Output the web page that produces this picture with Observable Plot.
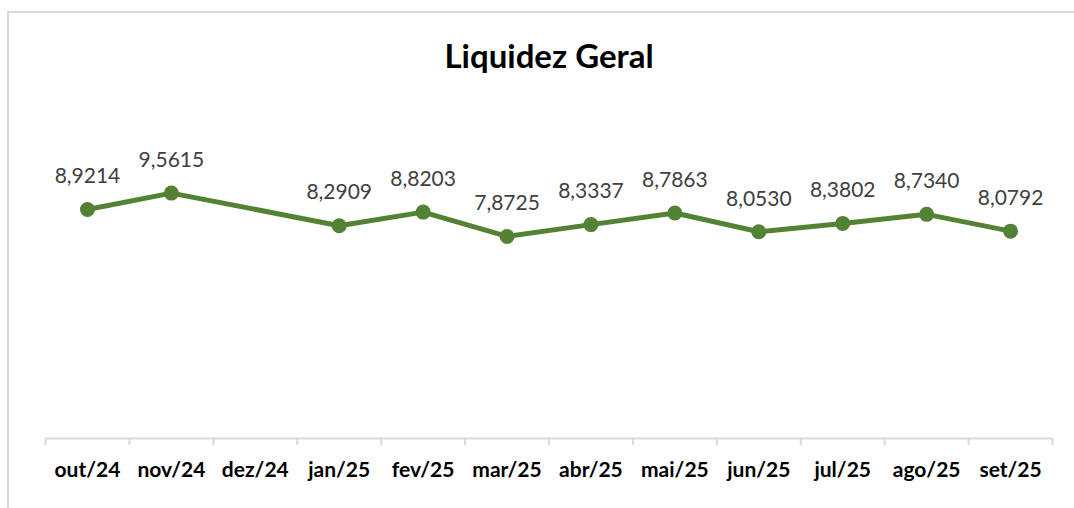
<!DOCTYPE html>
<html>
<head>
<meta charset="utf-8">
<script src="https://cdn.jsdelivr.net/npm/d3@7"></script>
<script src="https://cdn.jsdelivr.net/npm/@observablehq/plot@0.6"></script>
<style>
  html, body { margin: 0; padding: 0; background: #fff; overflow: hidden; }
  #wrap { position: relative; width: 1074px; height: 508px; overflow: hidden; font-family: Lato, "Open Sans", sans-serif; }
  #frame { position: absolute; left: 7px; top: 11px; width: 1200px; height: 600px; border-top: 2px solid #d9d9d9; border-left: 2px solid #d9d9d9; }
  #title { position: absolute; left: 0; width: 1098px; top: 35px; text-align: center; font-size: 33px; font-weight: 700; color: #000; line-height: 40px; }
  #chart { position: absolute; left: 0; top: 0; }
</style>
</head>
<body>
<div id="wrap">
  <div id="frame"></div>
  <div id="chart"></div>
  <div id="title">Liquidez Geral</div>
</div>
<script>
const categories = ["out/24","nov/24","dez/24","jan/25","fev/25","mar/25","abr/25","mai/25","jun/25","jul/25","ago/25","set/25"];
const values = [8.9214, 9.5615, null, 8.2909, 8.8203, 7.8725, 8.3337, 8.7863, 8.0530, 8.3802, 8.7340, 8.0792];
const labels = ["8,9214","9,5615",null,"8,2909","8,8203","7,8725","8,3337","8,7863","8,0530","8,3802","8,7340","8,0792"];
const yDomain = [0, 12];

const data = categories.map((c, i) => ({cat: c, v: values[i], label: labels[i]})).filter(d => d.v != null);

const W = 1074, H = 508, ml = 45, mr = 22, mt = 130, mb = 70;
const half = (W - ml - mr) / categories.length / 2;
const green = "#548235";

const chart = Plot.plot({
  width: W, height: H,
  marginLeft: ml, marginRight: mr, marginTop: mt, marginBottom: mb,
  style: {fontFamily: "Lato, 'Open Sans', sans-serif", background: "transparent"},
  x: {type: "point", domain: categories, padding: 0.5, round: false, label: null},
  y: {domain: yDomain, axis: null},
  marks: [
    Plot.ruleY([0], {stroke: "#d9d9d9", strokeWidth: 2}),
    Plot.axisX({ticks: categories, tickSize: 7, text: null, label: null, dx: -half, stroke: "#d9d9d9", strokeWidth: 2, strokeOpacity: 1}),
    Plot.axisX({ticks: categories.slice(-1), tickSize: 7, text: null, label: null, dx: half, stroke: "#d9d9d9", strokeWidth: 2, strokeOpacity: 1}),
    Plot.axisX({ticks: categories, tickSize: 0, tickPadding: 24, fontSize: 21, fontWeight: "bold", fill: "#000", label: null}),
    Plot.line(data, {x: "cat", y: "v", stroke: green, strokeWidth: 5}),
    Plot.dot(data, {x: "cat", y: "v", r: 7.5, fill: green, stroke: "none"}),
    Plot.text(data, {x: "cat", y: "v", text: "label", dy: -33, fontSize: 21, fill: "#404040"})
  ]
});
document.getElementById("chart").appendChild(chart);
</script>
</body>
</html>
